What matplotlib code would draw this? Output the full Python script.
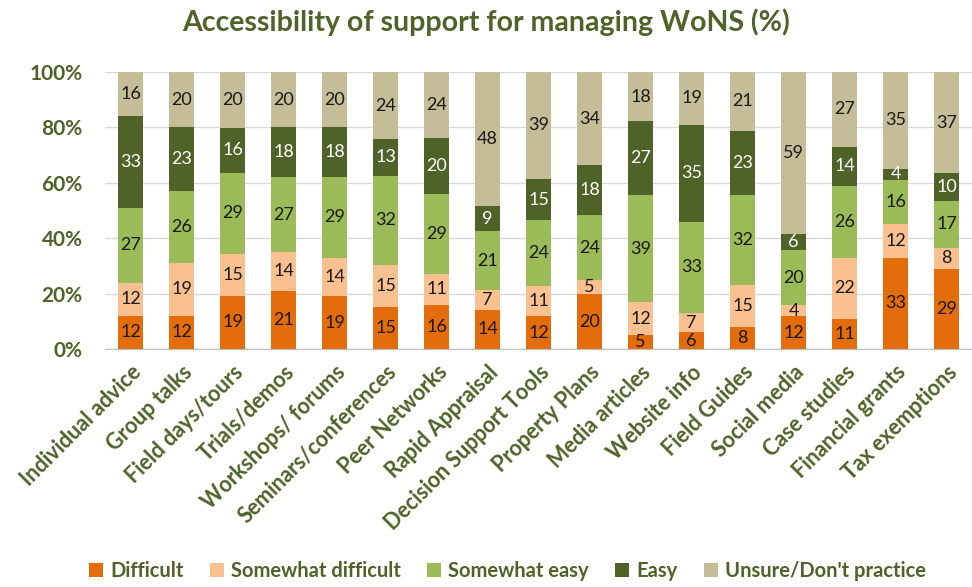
import matplotlib
matplotlib.use("Agg")
import matplotlib.pyplot as plt
import numpy as np
from matplotlib.ticker import FuncFormatter

categories = ["Individual advice", "Group talks", "Field days/tours", "Trials/demos",
              "Workshops/ forums", "Seminars/conferences", "Peer Networks",
              "Rapid Appraisal", "Decision Support Tools", "Property Plans",
              "Media articles", "Website info", "Field Guides", "Social media",
              "Case studies", "Financial grants", "Tax exemptions"]

difficult          = [12, 12, 19, 21, 19, 15, 16, 14, 12, 20, 5, 6, 8, 12, 11, 33, 29]
somewhat_difficult = [12, 19, 15, 14, 14, 15, 11, 7, 11, 5, 12, 7, 15, 4, 22, 12, 8]
somewhat_easy      = [27, 26, 29, 27, 29, 32, 29, 21, 24, 24, 39, 33, 32, 20, 26, 16, 17]
easy               = [33, 23, 16, 18, 18, 13, 20, 9, 15, 18, 27, 35, 23, 6, 14, 4, 10]
unsure             = [16, 20, 20, 20, 20, 24, 24, 48, 39, 34, 18, 19, 21, 59, 27, 35, 37]

series_names = ["Difficult", "Somewhat difficult", "Somewhat easy", "Easy",
                "Unsure/Don't practice"]
series = [difficult, somewhat_difficult, somewhat_easy, easy, unsure]
colors = ["#E46C0A", "#FAC090", "#9BBB59", "#4F6228", "#C4BD97"]
label_colors = ["#1a1a1a", "#1a1a1a", "#1a1a1a", "white", "#1a1a1a"]

text_green = "#4F6228"
plt.rcParams["font.family"] = ["Lato", "DejaVu Sans"]

fig = plt.figure(figsize=(9.72, 5.87), dpi=100)
ax = fig.add_axes([105 / 972, 1 - 349 / 587, 867 / 972, 277 / 587])

data = np.array(series, dtype=float)
totals = data.sum(axis=0)
shares = data / totals
x = np.arange(len(categories))
bottom = np.zeros(len(categories))
handles = []
for vals, share, col, lcol, name in zip(series, shares, colors, label_colors, series_names):
    bars = ax.bar(x, share, 0.5, bottom=bottom, color=col, label=name, zorder=3)
    handles.append(bars)
    for xi, b, s, v in zip(x, bottom, share, vals):
        ax.text(xi, b + s / 2, f"{v}", ha="center", va="center",
                fontsize=13, color=lcol, zorder=4)
    bottom += share

ax.set_xlim(-0.5, len(categories) - 0.5)
ax.set_ylim(0, 1)
ax.set_yticks(np.arange(0, 1.01, 0.2))
ax.yaxis.set_major_formatter(FuncFormatter(lambda v, p: f"{v * 100:.0f}%"))
ax.grid(axis="y", color="#D9D9D9", linewidth=1, zorder=0)
for side in ["left", "right", "top"]:
    ax.spines[side].set_visible(False)
ax.spines["bottom"].set_color("#BFBFBF")
ax.tick_params(axis="both", length=0)
ax.tick_params(axis="y", pad=16, labelsize=15, labelcolor=text_green)
for t in ax.get_yticklabels():
    t.set_fontweight("bold")

ax.set_xticks(x)
ax.set_xticklabels(categories, rotation=45, ha="right", rotation_mode="anchor",
                   fontsize=15.5, fontweight="bold", color=text_green)
ax.tick_params(axis="x", pad=9)

fig.text(0.5, 1 - 22 / 587, "Accessibility of support for managing WoNS (%)",
         ha="center", va="center", fontsize=20.5, fontweight="bold", color=text_green)

leg = fig.legend(handles=handles, labels=series_names, loc="center",
                 bbox_to_anchor=(0.522, 1 - 571 / 587), ncol=5, frameon=False,
                 handlelength=0.7, handleheight=0.7, handletextpad=0.35,
                 columnspacing=1.3, prop={"weight": "bold", "size": 14.5})
for t in leg.get_texts():
    t.set_color(text_green)

fig.savefig("out.png", dpi=100)
